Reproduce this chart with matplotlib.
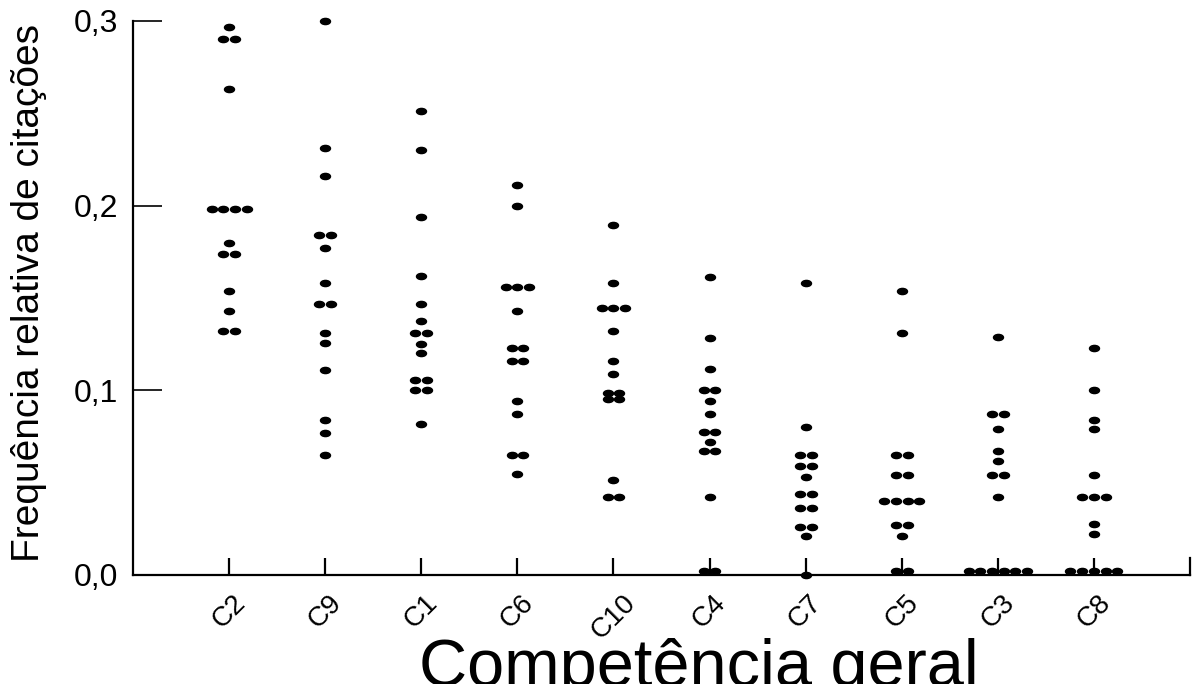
import matplotlib
matplotlib.use("Agg")
import matplotlib.pyplot as plt
from matplotlib.path import Path
from matplotlib.transforms import Affine2D
import numpy as np

# categories in plotted order
categories = ['C2', 'C9', 'C1', 'C6', 'C10', 'C4', 'C7', 'C5', 'C3', 'C8']

# relative frequency of citations per category
c2 = [0.297, 0.290, 0.290, 0.263, 0.198, 0.198, 0.198, 0.198, 0.180,
      0.174, 0.174, 0.154, 0.143, 0.132, 0.132]
c9 = [0.300, 0.231, 0.216, 0.184, 0.184, 0.177, 0.158, 0.147, 0.147,
      0.131, 0.1255, 0.111, 0.084, 0.077, 0.065]
c1 = [0.251, 0.230, 0.194, 0.162, 0.147, 0.1375, 0.131, 0.131, 0.125,
      0.120, 0.1056, 0.1056, 0.100, 0.100, 0.082]
c6 = [0.211, 0.200, 0.156, 0.156, 0.156, 0.143, 0.123, 0.123, 0.116,
      0.116, 0.094, 0.087, 0.065, 0.065, 0.0545]
c10 = [0.1895, 0.158, 0.1447, 0.1447, 0.1447, 0.132, 0.1157, 0.109,
       0.0985, 0.0985, 0.0953, 0.0953, 0.0516, 0.042, 0.042]
c4 = [0.1615, 0.1285, 0.1115, 0.100, 0.100, 0.094, 0.087, 0.0773, 0.0773,
      0.072, 0.067, 0.067, 0.042, 0.002, 0.002]
c7 = [0.158, 0.080, 0.065, 0.065, 0.059, 0.059, 0.053, 0.044, 0.044,
      0.036, 0.036, 0.026, 0.026, 0.021, 0.0]
c5 = [0.154, 0.131, 0.065, 0.065, 0.054, 0.054, 0.040, 0.040, 0.040,
      0.040, 0.027, 0.027, 0.021, 0.002, 0.002]
c3 = [0.1287, 0.087, 0.087, 0.079, 0.067, 0.0616, 0.054, 0.054, 0.042,
      0.002, 0.002, 0.002, 0.002, 0.002, 0.002]
c8 = [0.1227, 0.100, 0.084, 0.079, 0.054, 0.042, 0.042, 0.042, 0.0276,
      0.0222, 0.002, 0.002, 0.002, 0.002, 0.002]
series = [c2, c9, c1, c6, c10, c4, c7, c5, c3, c8]

yticks = [0.0, 0.1, 0.2, 0.3]
ytick_labels = ['0,0', '0,1', '0,2', '0,3']

# flattened ellipse marker
dot = Path.unit_circle().transformed(Affine2D().scale(1.0, 0.62))

fig = plt.figure(figsize=(12.03, 6.84), dpi=100)
ax = fig.add_axes([0.1106, 0.1594, 0.8786, 0.8099])

spacing = 0.122
for i, vals in enumerate(series):
    vals = np.array(vals)
    xs, ys = [], []
    for v in np.unique(vals):
        n = int(np.sum(vals == v))
        offs = (np.arange(n) - (n - 1) / 2.0) * spacing
        xs.extend(i + offs)
        ys.extend([v] * n)
    ax.plot(xs, ys, linestyle='none', marker=dot, markersize=7.2,
            color='black', clip_on=False, zorder=3)

ax.set_xlim(-1, 10)
ax.set_ylim(0, 0.3)

ax.spines['top'].set_visible(False)
ax.spines['right'].set_bounds(0, 0.009)
for s in ['left', 'bottom', 'right']:
    ax.spines[s].set_linewidth(1.6)

ax.set_yticks(yticks)
ax.set_yticklabels(ytick_labels, fontsize=23, family='Liberation Sans')
ax.set_xticks(range(len(categories)))
ax.set_xticklabels(categories, fontsize=20, family='Liberation Sans',
                   rotation=45, ha='center', va='top')

ax.tick_params(axis='y', direction='in', length=21, width=1.2, pad=11)
ax.tick_params(axis='x', direction='in', length=12, width=1.6, pad=11)

ax.set_ylabel('Frequência relativa de citações', fontsize=28,
              family='Liberation Sans')
ax.yaxis.set_label_coords(-0.081, 0.509)
ax.set_xlabel('Competência geral', fontsize=48, family='Liberation Sans')
ax.xaxis.set_label_coords(0.535, -0.114)

plt.savefig('out.png', dpi=100)
